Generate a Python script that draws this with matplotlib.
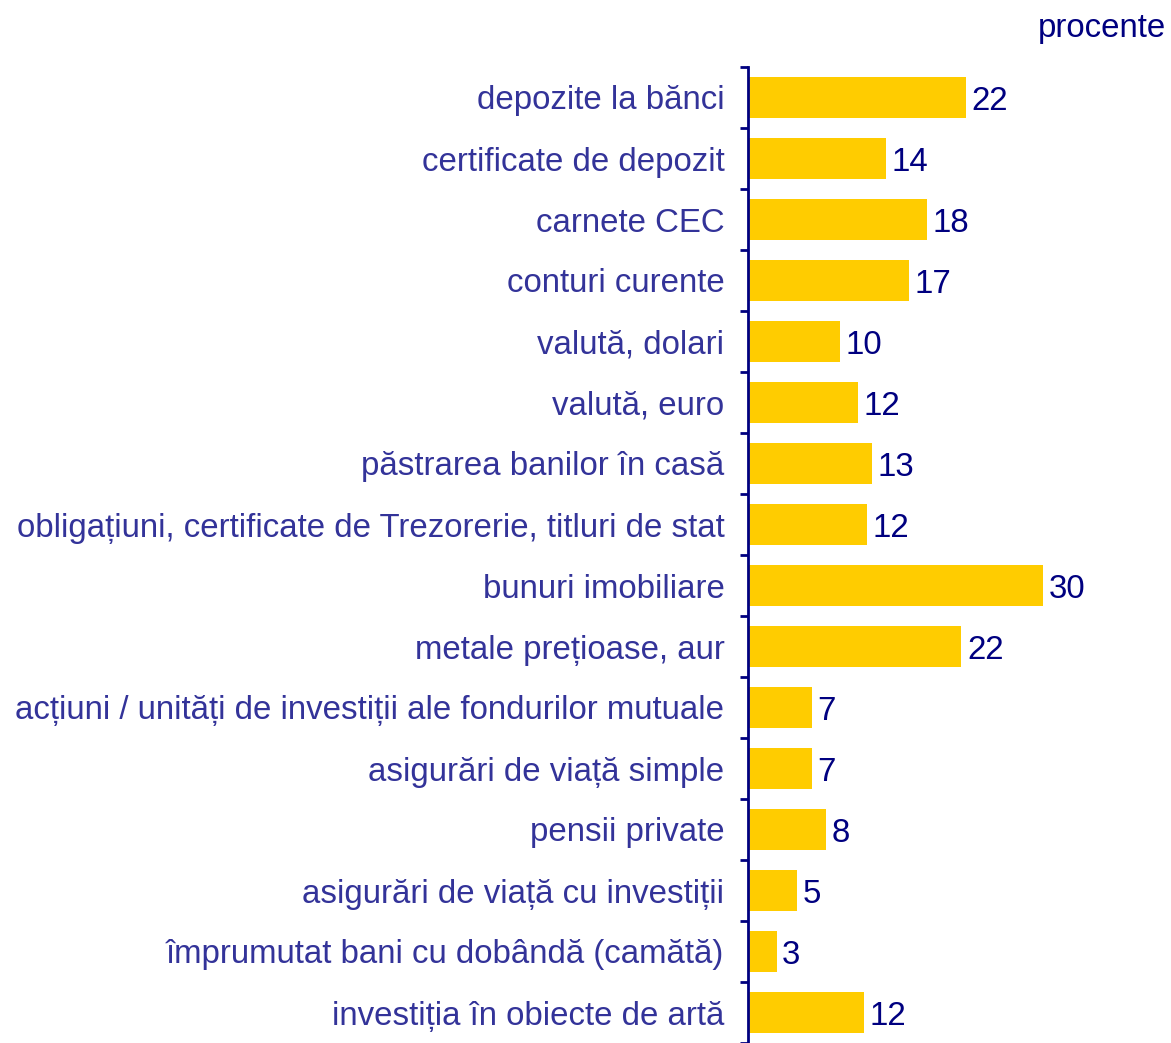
import numpy as np
import matplotlib
matplotlib.use("Agg")
import matplotlib.pyplot as plt

plt.rcParams['font.family'] = ['Liberation Sans', 'DejaVu Sans']

# categories, top to bottom
categories = [
    "depozite la bănci",
    "certificate de depozit",
    "carnete CEC",
    "conturi curente",
    "valută, dolari",
    "valută, euro",
    "păstrarea banilor în casă",
    "obligațiuni, certificate de Trezorerie, titluri de stat",
    "bunuri imobiliare",
    "metale prețioase, aur",
    "acțiuni / unități de investiții ale fondurilor mutuale",
    "asigurări de viață simple",
    "pensii private",
    "asigurări de viață cu investiții",
    "împrumutat bani cu dobândă (camătă)",
    "investiția în obiecte de artă",
]
# bar lengths
values = [22.2, 14.0, 18.2, 16.4, 9.4, 11.2, 12.6, 12.1, 30.0, 21.7,
          6.5, 6.5, 7.9, 5.0, 2.9, 11.8]
# printed labels
labels = [22, 14, 18, 17, 10, 12, 13, 12, 30, 22, 7, 7, 8, 5, 3, 12]

bar_color = "#FFCC00"
cat_color = "#333399"
num_color = "#000080"
fs = 23.8

W, H = 1171, 1043
fig = plt.figure(figsize=(W / 100, H / 100), dpi=100)
ax = fig.add_axes([748 / W, 0, 1 - 748 / W, 1 - 67 / H])

n = len(categories)
y = np.arange(n)
ax.barh(y, values, height=0.67, color=bar_color, zorder=2)
ax.set_ylim(n - 0.5, -0.5)
ax.set_xlim(0, (W - 748) / (295 / 30))

for yi, v, lab in zip(y, values, labels):
    ax.annotate(str(lab), (v, yi), xytext=(4, -3), textcoords="offset points",
                va="center", ha="left", fontsize=fs, color=num_color)

# category labels at centres, ticks at boundaries
ax.set_yticks(y)
ax.set_yticklabels(categories, fontsize=fs, color=cat_color)
ax.tick_params(axis="y", which="major", length=0, pad=17)
ax.set_yticks(np.arange(-0.5, n, 1.0), minor=True)
ax.tick_params(axis="y", which="minor", length=6, width=2, color=num_color)

ax.set_xticks([])
for s in ["top", "right", "bottom"]:
    ax.spines[s].set_visible(False)
ax.spines["left"].set_color(num_color)
ax.spines["left"].set_linewidth(2)

fig.text(1166 / W, 1 - 28 / H, "procente", ha="right", va="center",
         fontsize=fs, color=num_color)

fig.savefig("out.png", dpi=100)
